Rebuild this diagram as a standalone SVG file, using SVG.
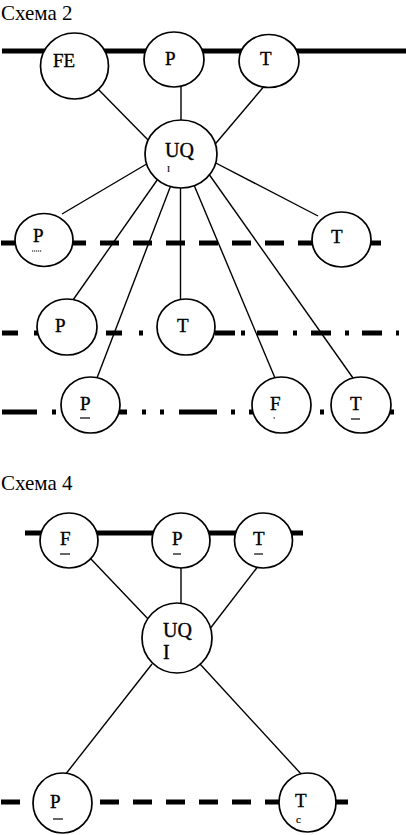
<svg xmlns="http://www.w3.org/2000/svg" width="406" height="835" viewBox="0 0 406 835">
<style>
.bus{stroke:#000;stroke-width:5;fill:none;stroke-linecap:butt}
.dash{stroke-dasharray:19 14}
.edge{stroke:#000;stroke-width:1.4;fill:none}
.node ellipse{fill:#fff;stroke:#000;stroke-width:1.7}
.lbl{font-family:"Liberation Serif","DejaVu Serif",serif;font-size:19px;fill:#000;stroke:#000;stroke-width:0.35}
.uq{font-size:20px}
.sm{font-size:9px;stroke-width:0.2}
.title{font-family:"Liberation Serif","DejaVu Serif",serif;font-size:21px;fill:#000}
.mark{stroke:#000;stroke-width:1.2;fill:none}
</style>
<rect width="406" height="835" fill="#fff"/>
<text class="title" x="1" y="20">Схема 2</text>
<text class="title" x="1" y="490">Схема 4</text>
<g id="lines">
<line class="bus" x1="2" y1="51" x2="406" y2="51"/>
<line class="bus dash" x1="1" y1="243" x2="381" y2="243"/>
<path class="bus" d="M2 333H18M34 333H38M106 333H122M139 333H143M215 333H235M241 333H245M257 333H278M293 333H297M311 333H331M345 333H349M362 333H382M396 333H399"/>
<path class="bus" d="M2 412H37M52 412H56M118 412H127M142 412H146M160 412H164M179 412H217M231 412H235M249 412H253M320 412H324M389 412H394"/>
<line class="bus" x1="25" y1="533" x2="303" y2="533"/>
<line class="bus dash" x1="1" y1="802" x2="348" y2="802"/>
</g>
<g id="connectors">
<line class="edge" x1="96" y1="87" x2="152" y2="144"/>
<line class="edge" x1="181" y1="85" x2="181" y2="122"/>
<line class="edge" x1="266" y1="84" x2="211" y2="149"/>
<line class="edge" x1="150" y1="162" x2="62" y2="214"/>
<line class="edge" x1="210" y1="160" x2="318" y2="216"/>
<line class="edge" x1="160" y1="176" x2="73" y2="300"/>
<line class="edge" x1="171" y1="185" x2="97" y2="378"/>
<line class="edge" x1="180.5" y1="186" x2="180.5" y2="300"/>
<line class="edge" x1="194" y1="185" x2="275" y2="378"/>
<line class="edge" x1="206" y1="170" x2="353" y2="378"/>
<line class="edge" x1="90" y1="558" x2="150" y2="621"/>
<line class="edge" x1="181" y1="566" x2="181" y2="605"/>
<line class="edge" x1="259" y1="565" x2="209" y2="630"/>
<line class="edge" x1="152" y1="664" x2="65" y2="775"/>
<line class="edge" x1="200" y1="664" x2="302" y2="775"/>
</g>
<g id="n-FE" class="node"><ellipse cx="74.5" cy="66" rx="34" ry="33"/><text class="lbl" x="53" y="67">FE</text></g>
<g id="n-P1" class="node"><ellipse cx="174" cy="59.5" rx="30" ry="27.5"/><text class="lbl" x="165" y="65">P</text></g>
<g id="n-T1" class="node"><ellipse cx="269" cy="61" rx="30" ry="26.5"/><text class="lbl" x="260" y="65">T</text></g>
<g id="n-UQ1" class="node"><ellipse cx="181" cy="154" rx="36" ry="34"/><text class="lbl uq" x="165" y="157">UQ</text><text class="lbl sm" x="167" y="172">I</text></g>
<g id="n-P2" class="node"><ellipse cx="44" cy="240" rx="29" ry="26.5"/><text class="lbl" x="33" y="242">P</text><line class="mark" x1="32" y1="251" x2="42" y2="251" stroke-dasharray="1.2 0.8" stroke-width="0.8"/></g>
<g id="n-T2" class="node"><ellipse cx="341.5" cy="239.5" rx="29.5" ry="27.5"/><text class="lbl" x="331" y="243">T</text></g>
<g id="n-P3" class="node"><ellipse cx="67" cy="327" rx="30" ry="28"/><text class="lbl" x="55" y="332">P</text></g>
<g id="n-T3" class="node"><ellipse cx="186" cy="327" rx="29" ry="28"/><text class="lbl" x="177" y="332">T</text></g>
<g id="n-P4" class="node"><ellipse cx="90.5" cy="405" rx="29.5" ry="28"/><text class="lbl" x="80" y="410">P</text><line class="mark" x1="80" y1="418" x2="90" y2="418"/></g>
<g id="n-F4" class="node"><ellipse cx="281.5" cy="405" rx="29.5" ry="28"/><text class="lbl" x="270" y="410">F</text><line class="mark" x1="273.5" y1="418" x2="275" y2="418"/></g>
<g id="n-T4" class="node"><ellipse cx="361" cy="405" rx="30" ry="28"/><text class="lbl" x="350" y="410">T</text><line class="mark" x1="351" y1="419" x2="360" y2="419"/></g>
<g id="n-F5" class="node"><ellipse cx="69" cy="540.5" rx="29" ry="27.5"/><text class="lbl" x="60" y="545">F</text><line class="mark" x1="60" y1="554" x2="70" y2="554"/></g>
<g id="n-P5" class="node"><ellipse cx="181" cy="540.5" rx="29" ry="27.5"/><text class="lbl" x="172" y="545">P</text><line class="mark" x1="173" y1="554" x2="181" y2="554"/></g>
<g id="n-T5" class="node"><ellipse cx="263.5" cy="540.5" rx="29" ry="27.5"/><text class="lbl" x="253" y="545">T</text><line class="mark" x1="254" y1="554" x2="263" y2="554"/></g>
<g id="n-UQ2" class="node"><ellipse cx="177" cy="638" rx="35" ry="35"/><text class="lbl uq" x="163" y="637">UQ</text><text class="lbl uq" x="163" y="659">I</text></g>
<g id="n-P6" class="node"><ellipse cx="62.5" cy="803" rx="29.5" ry="30"/><text class="lbl" x="50" y="808">P</text><line class="mark" x1="53" y1="819" x2="63" y2="819"/></g>
<g id="n-T6" class="node"><ellipse cx="307.5" cy="802.5" rx="28.5" ry="29.5"/><text class="lbl" x="295" y="807">T</text><text class="lbl" x="296" y="823" style="font-size:11px;stroke-width:0.2">c</text></g>
</svg>
